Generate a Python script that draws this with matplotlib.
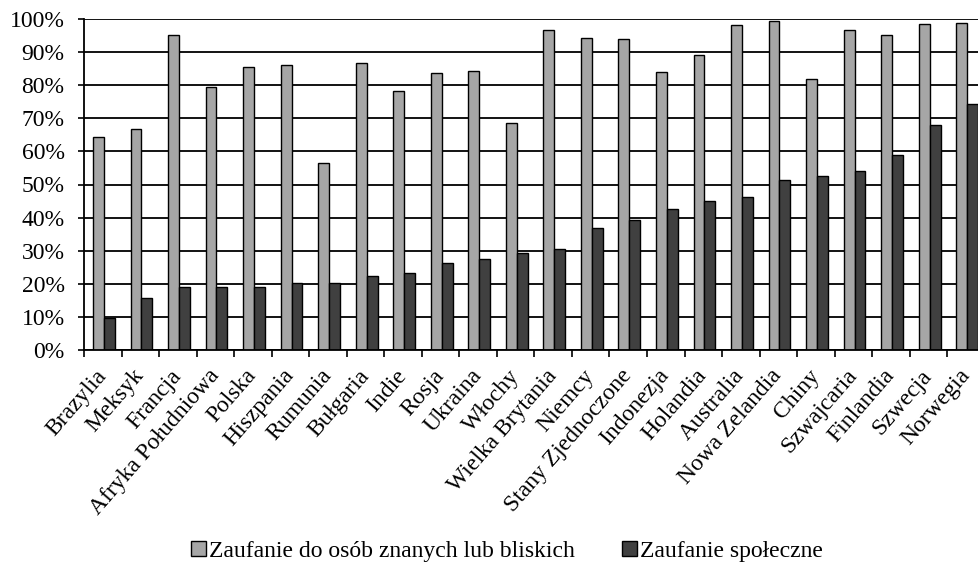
import matplotlib.pyplot as plt
import numpy as np
from matplotlib.patches import Patch
from matplotlib.ticker import FixedLocator, PercentFormatter

countries = [
    "Brazylia", "Meksyk", "Francja", "Afryka Południowa", "Polska", "Hiszpania",
    "Rumunia", "Bułgaria", "Indie", "Rosja", "Ukraina", "Włochy",
    "Wielka Brytania", "Niemcy", "Stany Zjednoczone", "Indonezja", "Holandia",
    "Australia", "Nowa Zelandia", "Chiny", "Szwajcaria", "Finlandia", "Szwecja",
    "Norwegia",
]
# trust towards known / close persons
trust_close = [
    64.4, 66.7, 95.3, 79.5, 85.6, 86.0, 56.5, 86.6, 78.3, 83.6, 84.3, 68.6,
    96.8, 94.3, 94.0, 84.0, 89.2, 98.1, 99.5, 81.9, 96.7, 95.1, 98.4, 98.7,
]
# social trust
trust_social = [
    9.6, 15.7, 18.9, 18.9, 19.1, 20.1, 20.3, 22.4, 23.4, 26.3, 27.6, 29.2,
    30.6, 36.9, 39.4, 42.6, 45.1, 46.1, 51.3, 52.5, 54.0, 59.0, 68.1, 74.2,
]
labels = ["Zaufanie do osób znanych lub bliskich", "Zaufanie społeczne"]

plt.rcParams["font.family"] = ["Liberation Serif", "DejaVu Serif"]
light, dark = "#a6a6a6", "#404040"
fs = 17

W, H = 979, 562
fig = plt.figure(figsize=(W / 100, H / 100), dpi=100)
# plot area runs past the right edge of the picture (clipped as in the original)
ax = fig.add_axes([84 / W, 1 - 350 / H, 900.8 / W, 331 / H])

x = np.arange(len(countries))
bw = 0.29
ax.bar(x - 0.115, trust_close, bw, color=light, edgecolor="black", lw=1.0, zorder=3)
ax.bar(x + 0.175, trust_social, bw, color=dark, edgecolor="black", lw=1.0, zorder=3)

ax.set_xlim(-0.5, len(countries) - 0.5)
ax.set_ylim(0, 100)
ax.set_yticks(np.arange(0, 101, 10))
ax.yaxis.set_major_formatter(PercentFormatter(decimals=0))
ax.grid(axis="y", color="black", lw=1.3, zorder=0)
ax.tick_params(axis="y", length=4, width=1.2, pad=10, labelsize=fs)

ax.set_xticks(x)
ax.set_xticklabels(countries, rotation=49, ha="right", va="center",
                   rotation_mode="anchor", fontsize=fs)
ax.tick_params(axis="x", which="major", length=0, pad=16)
ax.xaxis.set_minor_locator(FixedLocator(np.arange(-0.5, len(countries), 1)))
ax.tick_params(axis="x", which="minor", length=5, width=1.2)

for s in ["top", "right"]:
    ax.spines[s].set_visible(False)
for s in ["left", "bottom"]:
    ax.spines[s].set_linewidth(1.3)
    ax.spines[s].set_zorder(4)

handles = [Patch(facecolor=light, edgecolor="black"),
           Patch(facecolor=dark, edgecolor="black")]
fig.legend(handles, labels, loc="lower center", bbox_to_anchor=(0.518, -0.038),
           ncol=2, frameon=False, fontsize=fs, handlelength=0.62, handleheight=0.6,
           handletextpad=0.15, columnspacing=2.0)

fig.savefig("out.png", dpi=100)
